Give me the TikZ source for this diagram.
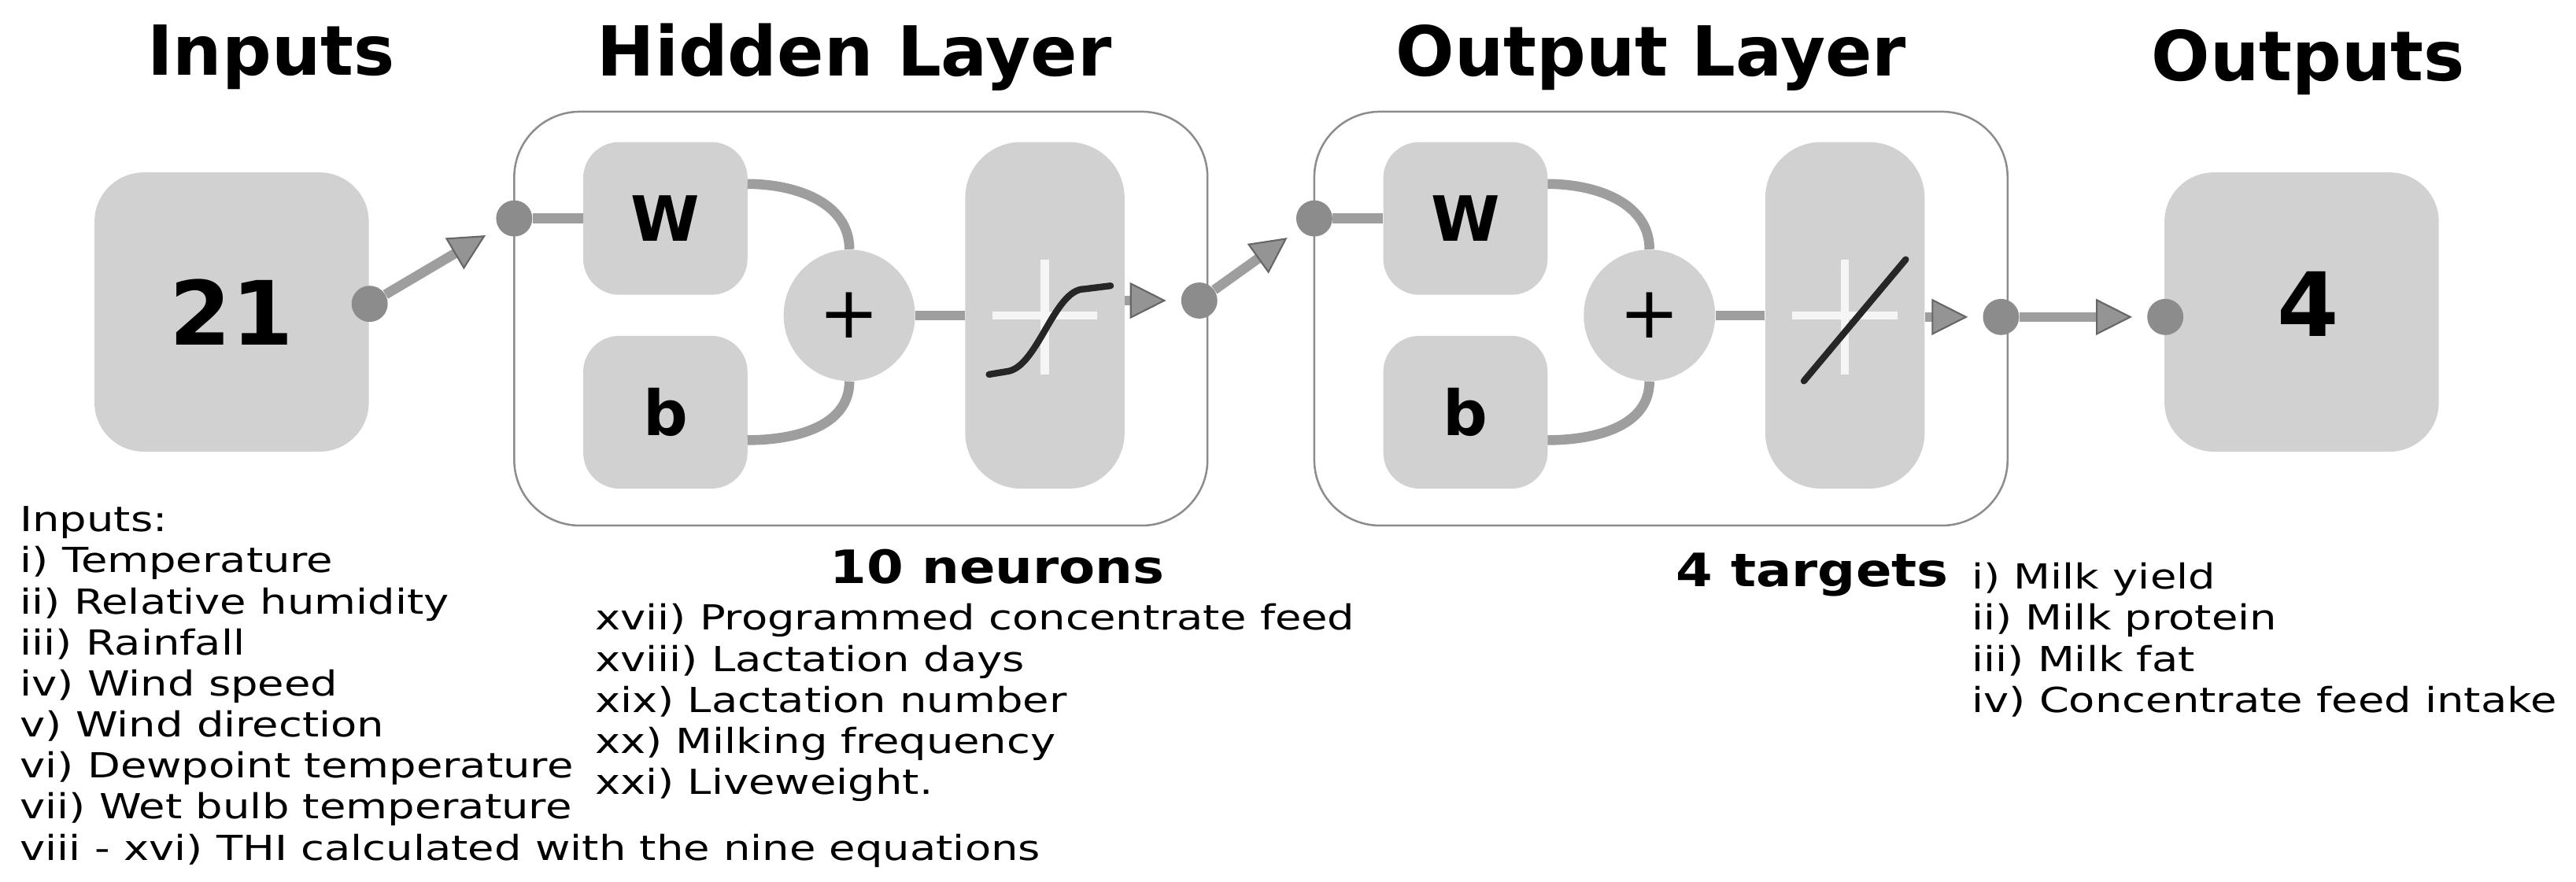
\documentclass[tikz,border=0pt]{standalone}
\usepackage{fontspec}
\usepackage{graphicx}
\setmainfont{DejaVu Sans}
\usetikzlibrary{arrows.meta,calc}
\newcommand{\widelist}[1]{\scalebox{1.24}[1]{\begin{tabular}{@{}l@{}}#1\end{tabular}}}
\begin{document}
\begin{tikzpicture}[x=1pt,y=-1pt,
  gbox/.style={fill=black!18,draw=none,rounded corners=22pt,inner sep=0pt},
  big/.style={draw=black!45,line width=1.2pt,rounded corners=40pt,fill=white},
  dot/.style={circle,fill=black!45,minimum size=22pt,inner sep=0pt},
  wire/.style={draw=black!38,line width=6pt},
  arr/.style={wire,-{Triangle[length=22pt,width=22pt,fill=black!42,color=black!60,line width=1pt]},shorten >=9pt},
  title/.style={font=\fontsize{42}{46}\selectfont\bfseries},
  lst/.style={font=\fontsize{21}{25}\selectfont,anchor=north west,inner sep=0pt},
  sym/.style={font=\fontsize{38}{40}\selectfont\bfseries},
  bl/.style={font=\fontsize{28}{30}\selectfont\bfseries}]
\useasboundingbox (0,0) rectangle (1568,537);
% titles
\node[title] (t1) at (165,35) {Inputs};
\node[title] (t2) at (520,35) {Hidden Layer};
\node[title] (t3) at (1005,35) {Output Layer};
\node[title] (t4) at (1405,38) {Outputs};
% input box
\node[gbox,minimum width=167pt,minimum height=170pt,rounded corners=30pt] (in) at (141,190) {};
\node[font=\fontsize{54}{56}\selectfont\bfseries] at (in) {21};
\node[gbox,minimum width=167pt,minimum height=170pt,rounded corners=30pt] (out) at (1401,190) {};
\node[font=\fontsize{54}{56}\selectfont\bfseries] at (1405,185) {4};
% big boxes
\draw[big] (313,68) rectangle (735,320);
\draw[big] (800,68) rectangle (1222,320);
% layers
\foreach \p/\x in {h/0,o/487}{
  \begin{scope}[xshift=\x]
  \node[gbox,minimum width=100pt,minimum height=93pt] (\p w) at (405,133) {};
  \node[sym] at (\p w) {W};
  \node[gbox,minimum width=100pt,minimum height=93pt] (\p b) at (405,251) {};
  \node[sym] at (\p b) {b};
  \node[circle,fill=black!18,minimum size=80pt,inner sep=0pt] (\p p) at (517,192) {};
  \node[font=\fontsize{44}{44}\selectfont] at (\p p) {+};
  \node[gbox,minimum width=97pt,minimum height=211pt,rounded corners=34pt] (\p f) at (636,192) {};
  \draw[white,line width=5pt,opacity=0.8] (636,158)--(636,228) (604,192)--(668,192);
  \draw[wire] (455,112) to[out=0,in=90] (\p p.north);
  \draw[wire] (455,268) to[out=0,in=-90] (\p p.south);
  \draw[wire] (\p p.east) -- (\p f.west);
  \end{scope}}
% sigmoid
\draw[black!85,line width=4pt,line cap=round] (602,228) -- (614,226) .. controls (632,222) and (642,176) .. (660,176) -- (676,174);
% linear
\draw[black!85,line width=4pt,line cap=round] (1098,232) -- (1160,158);
% dots
\node[dot] (d1) at (225,185) {};
\node[dot] (d2) at (313,133) {};
\node[dot] (d3) at (730,183) {};
\node[dot] (d4) at (800,133) {};
\node[dot] (d5) at (1218,193) {};
\node[dot] (d6) at (1318,193) {};
\draw[arr] (d1) -- (d2);
\draw[wire] (d2) -- (hw.west);
\draw[arr] (hf.east |- d3) -- (d3);
\draw[arr] (d3) -- (d4);
\draw[wire] (d4) -- (ow.west);
\draw[arr] (of.east |- d5) -- (d5);
\draw[arr] (d5) -- (d6);
% labels
\node[bl] (n1) at (607,345) {\scalebox{1.15}[1]{10 neurons}};
\node[bl] (n2) at (1103,350) {\scalebox{1.15}[1]{4 targets}};
\node[lst] (l1) at (12,306) {\widelist{Inputs:\\ i) Temperature\\ ii) Relative humidity\\ iii) Rainfall\\ iv) Wind speed\\ v) Wind direction\\ vi) Dewpoint temperature\\ vii) Wet bulb temperature\\ viii - xvi) THI calculated with the nine equations}};
\node[lst] (l2) at (362,366) {\widelist{xvii) Programmed concentrate feed\\ xviii) Lactation days\\ xix) Lactation number\\ xx) Milking frequency\\ xxi) Liveweight.}};
\node[lst] (l3) at (1200,341) {\widelist{i) Milk yield\\ ii) Milk protein\\ iii) Milk fat\\ iv) Concentrate feed intake}};
\end{tikzpicture}
\end{document}
